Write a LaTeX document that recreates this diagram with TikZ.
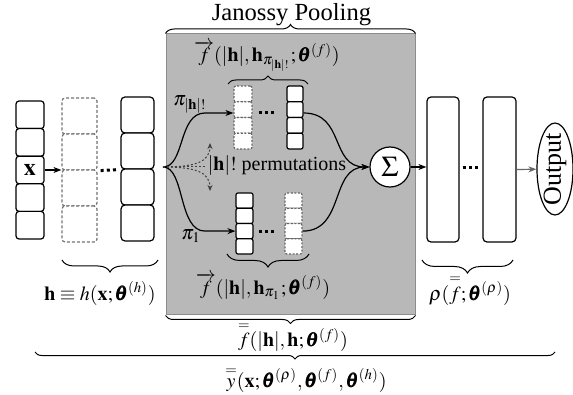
\documentclass[tikz,border=0pt]{standalone}
\usepackage{amsmath}
\usepackage{mathptmx}
\usepackage[no-math]{fontspec}
\setmainfont{Liberation Serif}
\usetikzlibrary{shapes.geometric,decorations.pathreplacing,arrows.meta,calc}
\begin{document}
\begin{tikzpicture}[x=0.5pt,y=-0.5pt,
 cell/.style={draw, line width=0.6pt, rounded corners=1.5pt, fill=white, inner sep=0pt},
 dcell/.style={cell, draw=black!55, dash pattern=on 1.5pt off 1pt},
 scell/.style={draw, line width=0.6pt, rounded corners=1pt, fill=white, inner sep=0pt},
 sdcell/.style={scell, draw=black!60, dash pattern=on 1pt off 0.8pt},
 arr/.style={-{Stealth[length=4pt,width=3pt]}, line width=0.6pt},
 fan/.style={line width=0.5pt, draw=black!75, dash pattern=on 1pt off 1pt},
 fanarr/.style={fan, -{Stealth[length=3pt,width=2.5pt]}},
 dotsln/.style={line width=1.5pt, dash pattern=on 1.5pt off 1.6pt},
 brc/.style={decorate, decoration={brace, amplitude=#1}, line width=0.5pt},
 lbl/.style={inner sep=0pt, anchor=base},
]
\useasboundingbox (0,0) rectangle (573,395);

% Janossy pooling region
\node[draw=black!45, fill=black!28, line width=0.5pt, minimum width=124.5pt, minimum height=140.5pt, inner sep=0pt] (jp) at (290.5,174.5) {};
\node[lbl, font=\fontsize{12.3}{14}\selectfont] (title) at (291.5,21) {Janossy Pooling};
\draw[brc=4.5pt] (jp.north west) -- (jp.north east);

% input column
\node[cell, minimum width=14pt, minimum height=13.8pt] (a1) at (30,114.8) {};
\node[cell, minimum width=14pt, minimum height=13.8pt] (a2) at (30,142.4) {};
\node[cell, minimum width=14pt, minimum height=13.8pt, font=\large] (a3) at (30,170) {$\mathbf{x}$};
\node[cell, minimum width=14pt, minimum height=13.8pt] (a4) at (30,197.6) {};
\node[cell, minimum width=14pt, minimum height=13.8pt] (a5) at (30,225.2) {};

% h network columns
\foreach \n/\y in {1/116,2/152,3/188,4/224}{
  \node[dcell, minimum width=17.5pt, minimum height=18pt] (b\n) at (79.5,\y) {};
}
\foreach \n/\y in {1/115,2/151,3/187,4/223}{
  \node[cell, rounded corners=2pt, minimum width=16.5pt, minimum height=18pt] (c\n) at (137.5,\y) {};
}
\draw[arr] (a3.east) -- (a3.east -| b1.west);
\draw[dotsln] ($(b2.south east)+(3,0)$) -- ($(c2.south west)+(-2,0)$);
\draw[brc=6pt] (158,260) -- (62,260);
\node[lbl] (hlab) at (100,300) {$\mathbf{h}\equiv h(\mathbf{x};\pmb{\theta}^{(h)})$};

% permutation groups
\foreach \n/\y in {1/93.9,2/109.6,3/125.4,4/141.1}{
  \node[sdcell, minimum width=9pt, minimum height=7.875pt] (tA\n) at (243,\y) {};
  \node[scell, minimum width=8pt, minimum height=7.875pt] (tB\n) at (295,\y) {};
}
\foreach \n/\y in {1/200.6,2/215.9,3/231.1,4/246.4}{
  \node[scell, minimum width=8.5pt, minimum height=7.625pt] (bA\n) at (244.5,\y) {};
  \node[sdcell, minimum width=8.5pt, minimum height=7.625pt] (bB\n) at (293.5,\y) {};
}
\coordinate (split) at (163,167);
\coordinate (tin) at ($(tA2.west)+(0,3.4)$);
\draw[arr] (split) .. controls (185,167) and (178,113) .. (205,113) -- (tin);
\draw[arr] (split) .. controls (185,167) and (178,231.1) .. (205,231.1) -- (bA3.west);
\draw[fanarr] (split) .. controls (195,167) and (210,162) .. (210,143);
\draw[fanarr] (split) .. controls (195,167) and (210,172) .. (210,191);
\draw[fan] (split) -- (205,167);
\draw[dotsln] ($(tA2.east)+(6,3.4)$) -- ($(tB2.west)+(-10,3.4)$);
\draw[dotsln] ($(bA3.east)+(5,0)$) -- ($(bB3.west)+(-10,0)$);

\node (pitop) at (190,104) {$\pi_{|\mathbf{h}|!}$};
\node (pi1) at (191,236) {$\pi_1$};
\node (perm) at (277,166) {$|\mathbf{h}|!$ permutations};

\node[lbl] (ftop) at (267,62) {$\overrightarrow{f}(|\mathbf{h}|,\mathbf{h}_{\pi_{|\mathbf{h}|!}};\pmb{\theta}^{(f)})$};
\draw[brc=4pt] (228,84) -- (308,84);
\draw[brc=6.5pt] (309,254) -- (227,254);
\node[lbl] (fbot) at (263,294) {$\overrightarrow{f}(|\mathbf{h}|,\mathbf{h}_{\pi_1};\pmb{\theta}^{(f)})$};

% sum
\node[draw, circle, fill=white, minimum size=20pt, inner sep=0pt, line width=0.6pt, font=\Large] (sum) at (390,167) {$\Sigma$};
\draw[arr] (tB2.east |- tin) .. controls (345,113) and (330,167) .. (sum.west);
\draw[arr] (bB3.east) .. controls (345,231.1) and (330,167) .. (sum.west);

% rho network
\node[cell, rounded corners=2pt, minimum width=16pt, minimum height=72.5pt] (r1) at (443,169.5) {};
\node[cell, rounded corners=2pt, minimum width=16.5pt, minimum height=72.5pt] (r2) at (499.5,169.5) {};
\draw[arr] (sum.east) -- (sum.east -| r1.west);
\draw[dotsln] ($(r1.east)+(3,-1.5)$) -- ($(r2.west)+(-2,-1.5)$);
\node[draw, ellipse, rotate=90, minimum width=46pt, minimum height=18pt, inner xsep=-1.8pt, inner ysep=0pt, line width=0.6pt, font=\fontsize{13}{13}\selectfont] (out) at (555,169) {Output};
\draw[arr, draw=black!60, fill=black!60] (r2.east) -- (out);
\draw[brc=6.5pt] (513,260) -- (422,260);
\node[lbl] (rholab) at (470,300) {$\rho(\overset{=}{f};\pmb{\theta}^{(\rho)})$};

% bottom braces
\draw[brc=4pt] (jp.south east) -- (jp.south west);
\node[lbl] (fpool) at (293,347) {$\overset{=}{f}(|\mathbf{h}|,\mathbf{h};\pmb{\theta}^{(f)})$};
\draw[brc=3.5pt] (555,352) -- (35,352);
\node[lbl] (ylab) at (306,387) {$\overset{=}{y}(\mathbf{x};\pmb{\theta}^{(\rho)},\pmb{\theta}^{(f)},\pmb{\theta}^{(h)})$};
\end{tikzpicture}
\end{document}
